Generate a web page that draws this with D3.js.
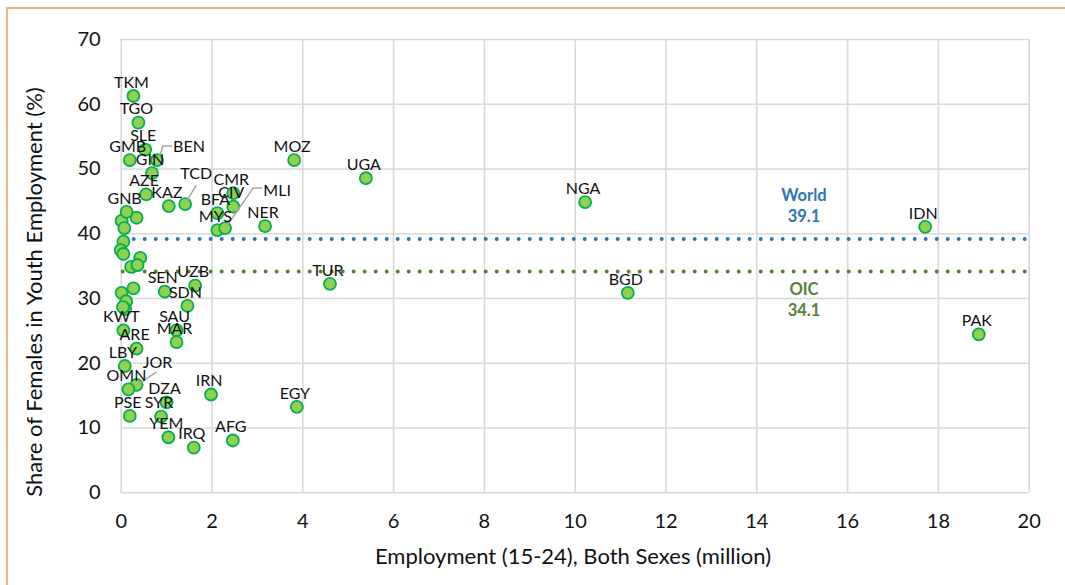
<!DOCTYPE html>
<html>
<head>
<meta charset="utf-8">
<script src="https://cdn.jsdelivr.net/npm/d3@7/dist/d3.min.js"></script>
<style>
  html, body { margin: 0; padding: 0; background: #fff; }
  svg { display: block; }
</style>
</head>
<body>
<svg id="chart" width="1065" height="585"></svg>
<script>
// Labelled OIC countries: youth employment (million) vs share of females (%)
const codes = ["TKM","TGO","SLE","GMB","BEN","GIN","AZE","KAZ","TCD","GNB",
  "CMR","CIV","BFA","MYS","MLI","NER","MOZ","UGA","NGA","IDN",
  "TUR","BGD","PAK","EGY","SEN","UZB","SDN","KWT","ARE","SAU",
  "MAR","LBY","JOR","OMN","DZA","PSE","SYR","YEM","IRQ","AFG","IRN"];
const employment = [0.28,0.39,0.54,0.20,0.80,0.69,0.56,1.06,1.42,0.13,
  2.48,2.48,2.13,2.13,2.30,3.18,3.82,5.40,10.23,17.72,
  4.61,11.17,18.90,3.88,0.97,1.64,1.47,0.06,0.35,1.23,
  1.23,0.09,0.35,0.17,1.01,0.20,0.89,1.05,1.61,2.47,1.99];
const femaleShare = [61.2,57.1,52.9,51.3,51.3,49.3,46.0,44.2,44.5,43.3,
  46.2,44.1,43.1,40.5,40.8,41.1,51.3,48.5,44.8,41.0,
  32.2,30.8,24.4,13.2,31.0,31.9,28.8,25.0,22.2,25.0,
  23.2,19.5,16.6,15.9,13.9,11.8,11.7,8.5,6.9,8.0,15.1];

// Smaller economies drawn without a label
const otherEmployment = [0.35,0.02,0.08,0.06,0.00,0.06,0.43,0.23,0.37,0.02,0.28,0.12,0.10,0.05];
const otherShare      = [42.4,41.9,40.8,38.7,37.4,36.8,36.2,34.8,35.1,30.8,31.5,29.5,28.3,28.6];

// Reference averages
const refNames  = ["World","OIC"];
const refValues = [39.1, 34.1];

const xTicks = [0,2,4,6,8,10,12,14,16,18,20];
const yTicks = [0,10,20,30,40,50,60,70];

// ---- layout ----
const svg = d3.select("#chart");
const W = 1065, H = 585;
const plot = { left: 120.7, right: 1028.7, top: 39, bottom: 492.3 };
const FONT = "Lato, 'Open Sans', sans-serif";

const x = d3.scaleLinear().domain([0, 20]).range([plot.left, plot.right]);
const y = d3.scaleLinear().domain([0, 70]).range([plot.bottom, plot.top]);

// frame
svg.append("rect").attr("width", W).attr("height", H).attr("fill", "#fff");
svg.append("path")
  .attr("d", `M7,${H} L7,8 L${W},8`)
  .attr("fill", "none").attr("stroke", "#F4B183").attr("stroke-width", 2);

// grid
const gridColor = "#D9D9D9";
const gx = svg.append("g")
  .attr("transform", `translate(0,${plot.bottom})`)
  .call(d3.axisBottom(x).tickValues(xTicks).tickSize(-(plot.bottom - plot.top)).tickFormat(""));
const gy = svg.append("g")
  .attr("transform", `translate(${plot.left},0)`)
  .call(d3.axisLeft(y).tickValues(yTicks).tickSize(-(plot.right - plot.left)).tickFormat(""));
[gx, gy].forEach(g => {
  g.select(".domain").remove();
  g.selectAll(".tick line").attr("stroke", gridColor).attr("stroke-width", 1.6);
});

// tick labels
const xl = svg.append("g")
  .attr("transform", `translate(0,${plot.bottom})`)
  .call(d3.axisBottom(x).tickValues(xTicks).tickSize(0).tickPadding(22).tickFormat(d3.format("d")));
const yl = svg.append("g")
  .attr("transform", `translate(${plot.left},0)`)
  .call(d3.axisLeft(y).tickValues(yTicks).tickSize(0).tickPadding(20).tickFormat(d3.format("d")));
[xl, yl].forEach(g => {
  g.select(".domain").remove();
  g.selectAll("text").attr("font-family", FONT).attr("font-size", 20).attr("fill", "#111");
});

// axis titles
svg.append("text")
  .attr("x", 573).attr("y", 564)
  .attr("text-anchor", "middle")
  .attr("font-family", FONT).attr("font-size", 22).attr("fill", "#111")
  .text("Employment (15-24), Both Sexes (million)");
svg.append("text")
  .attr("transform", "translate(42,292) rotate(-90)")
  .attr("text-anchor", "middle")
  .attr("font-family", FONT).attr("font-size", 22).attr("fill", "#111")
  .text("Share of Females in Youth Employment (%)");

// reference lines
const refColors = ["#2E75B6", "#548235"];
refValues.forEach((v, i) => {
  svg.append("line")
    .attr("x1", x(0) + 2).attr("x2", x(20))
    .attr("y1", y(v)).attr("y2", y(v))
    .attr("stroke", refColors[i]).attr("stroke-width", 4)
    .attr("stroke-linecap", "round").attr("stroke-dasharray", "0 11");
});
// reference labels: World above its line, OIC below
const refLabelX = 15.05;
[[refNames[0], y(refValues[0]) - 44], [refNames[1], y(refValues[1]) + 18]].forEach(([name, top], i) => {
  const t = svg.append("text")
    .attr("x", x(refLabelX)).attr("y", top)
    .attr("text-anchor", "middle")
    .attr("font-family", FONT).attr("font-size", 16.5).attr("font-weight", "bold")
    .attr("fill", refColors[i]);
  t.append("tspan").attr("x", x(refLabelX)).attr("dy", "0.35em").text(name);
  t.append("tspan").attr("x", x(refLabelX)).attr("dy", 21).text(refValues[i].toFixed(1));
});

// points
const pointFill = "#92D050", pointStroke = "#00B050";
const others = otherEmployment.map((e, i) => ({ e, s: otherShare[i] }));
const labelled = codes.map((c, i) => ({ c, e: employment[i], s: femaleShare[i] }));

svg.append("g").selectAll("circle").data(others).join("circle")
  .attr("cx", d => x(d.e)).attr("cy", d => y(d.s)).attr("r", 6)
  .attr("fill", pointFill).attr("stroke", pointStroke).attr("stroke-width", 1.8);
svg.append("g").selectAll("circle").data(labelled).join("circle")
  .attr("cx", d => x(d.e)).attr("cy", d => y(d.s)).attr("r", 6)
  .attr("fill", pointFill).attr("stroke", pointStroke).attr("stroke-width", 1.8);

// labels: default sits just above the point; a few are pulled out with leader lines
const labelOffset = { dx: -2, dy: -14 };
const leaderLabels = {
  BEN: { dx: 32, dy: -14, path: [[3, -5], [6, -14], [15, -14]] },
  TCD: { dx: 11, dy: -31, path: [[1, -2], [11, -19]] },
  MLI: { dx: 52, dy: -38, path: [[1, -1], [28, -40], [37, -40]] },
  JOR: { dx: 21, dy: -23, path: [[1, 0], [20, -13]] }
};

const leaderG = svg.append("g");
const labelG = svg.append("g");
labelled.forEach(d => {
  const px = x(d.e), py = y(d.s);
  const leader = leaderLabels[d.c];
  const off = leader || labelOffset;
  if (leader) {
    leaderG.append("path")
      .attr("d", d3.line()(leader.path.map(([a, b]) => [px + a, py + b])))
      .attr("fill", "none").attr("stroke", "#A6A6A6").attr("stroke-width", 1.5);
  }
  labelG.append("text")
    .attr("x", px + off.dx).attr("y", py + off.dy)
    .attr("dy", "0.36em")
    .attr("text-anchor", "middle")
    .attr("font-family", FONT).attr("font-size", 16).attr("fill", "#111")
    .text(d.c);
});
</script>
</body>
</html>
